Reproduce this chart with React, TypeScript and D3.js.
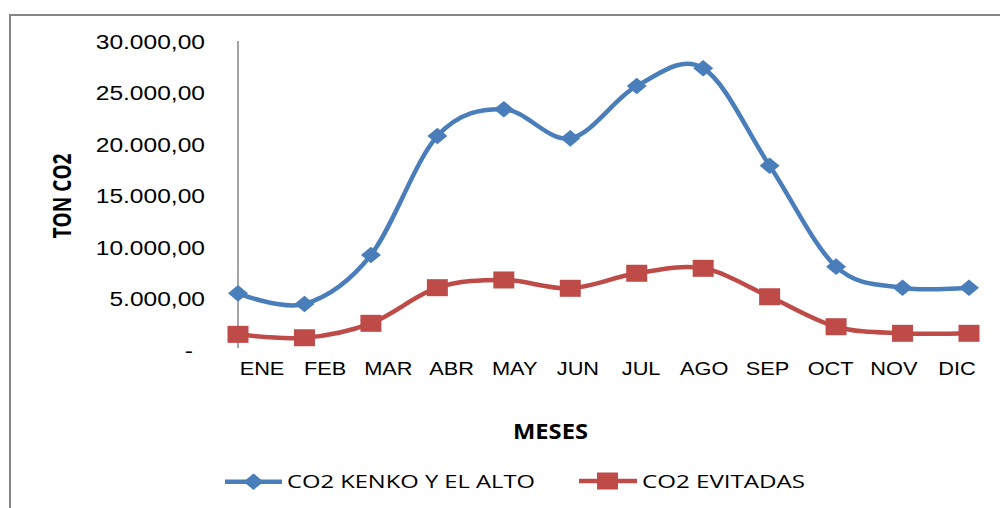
import React from 'react';
import * as d3 from 'd3';

// values (ton CO2)
const months = ['ENE', 'FEB', 'MAR', 'ABR', 'MAY', 'JUN', 'JUL', 'AGO', 'SEP', 'OCT', 'NOV', 'DIC'];
const co2Kenko = [5500, 4470, 9220, 20780, 23370, 20550, 25630, 27350, 17890, 8090, 6050, 6050];
const co2Evitadas = [1520, 1190, 2590, 6050, 6800, 5990, 7450, 7930, 5170, 2260, 1620, 1620];
const yTicks = [0, 5000, 10000, 15000, 20000, 25000, 30000];

const BLUE = '#4A7EBB';
const RED = '#BE4B48';
const GRID = '#868686';
const SX = 1.17; // the original picture is stretched sideways

const esLocale = d3.formatLocale({decimal: ',', thousands: '.', grouping: [3], currency: ['', '']});
const fmt = esLocale.format(',.2f');

const x = d3.scalePoint<string>().domain(months).range([238, 969]);
const xLabel = d3.scalePoint<string>().domain(months).range([262, 957]);
const y = d3.scaleLinear().domain([0, 30000]).range([350, 41]);

const line = d3
  .line<number>()
  .x((_, i) => x(months[i]) as number)
  .y(d => y(d))
  .curve(d3.curveCardinal.tension(0));

const Diamond = ({cx, cy}: {cx: number; cy: number}) => (
  <path d={`M${cx - 10},${cy} L${cx},${cy - 8.3} L${cx + 10},${cy} L${cx},${cy + 8.3} Z`} fill={BLUE} />
);

const Square = ({cx, cy}: {cx: number; cy: number}) => (
  <rect x={cx - 10.5} y={cy - 8.5} width={21} height={17} fill={RED} />
);

export default function App() {
  return (
    <svg width={1000} height={508} style={{position: 'absolute', left: 0, top: 0, background: '#fff'}}>
      {/* chart frame */}
      <path d="M10,508 L10,15 L1000,15" fill="none" stroke={GRID} strokeWidth={2} />

      {/* y axis */}
      <line x1={238} x2={238} y1={y(30000)} y2={348} stroke={GRID} strokeWidth={1.5} />
      {yTicks.map(t => (
        <text
          key={t}
          transform={`translate(${t === 0 ? 193 : 205},${y(t) + 7.5}) scale(${SX},1)`}
          textAnchor="end"
          fontFamily="Liberation Sans, Arial, sans-serif"
          fontSize={21}
          fill="#000">
          {t === 0 ? '-' : fmt(t)}
        </text>
      ))}

      {/* x labels */}
      {months.map(m => (
        <text
          key={m}
          transform={`translate(${xLabel(m)},375) scale(${SX},1)`}
          textAnchor="middle"
          fontFamily="Liberation Sans, Arial, sans-serif"
          fontSize={18.6}
          fill="#000">
          {m}
        </text>
      ))}

      {/* axis titles */}
      <text
        transform={`translate(71,196) scale(${SX},1) rotate(-90)`}
        textAnchor="middle"
        fontFamily="Open Sans, sans-serif"
        fontWeight="bold"
        fontSize={22}
        textLength={85}
        lengthAdjust="spacingAndGlyphs">
        TON CO2
      </text>
      <text
        x={513}
        y={438.5}
        fontFamily="Open Sans, sans-serif"
        fontWeight="bold"
        fontSize={21}
        textLength={75}
        lengthAdjust="spacingAndGlyphs">
        MESES
      </text>

      {/* series */}
      <path d={line(co2Evitadas) || ''} fill="none" stroke={RED} strokeWidth={4.5} />
      <path d={line(co2Kenko) || ''} fill="none" stroke={BLUE} strokeWidth={4.5} />
      {co2Evitadas.map((v, i) => (
        <Square key={i} cx={x(months[i]) as number} cy={y(v)} />
      ))}
      {co2Kenko.map((v, i) => (
        <Diamond key={i} cx={x(months[i]) as number} cy={y(v)} />
      ))}

      {/* legend */}
      <line x1={225} x2={282} y1={481.7} y2={481.7} stroke={BLUE} strokeWidth={4.5} />
      <Diamond cx={253.5} cy={481.7} />
      <text
        x={287}
        y={488}
        fontFamily="Open Sans, sans-serif"
        fontSize={18}
        textLength={248}
        lengthAdjust="spacingAndGlyphs">
        CO2 KENKO Y EL ALTO
      </text>
      <line x1={579} x2={637} y1={481} y2={481} stroke={RED} strokeWidth={4.5} />
      <Square cx={607.5} cy={481} />
      <text
        x={642}
        y={488}
        fontFamily="Open Sans, sans-serif"
        fontSize={18}
        textLength={163}
        lengthAdjust="spacingAndGlyphs">
        CO2 EVITADAS
      </text>
    </svg>
  );
}
